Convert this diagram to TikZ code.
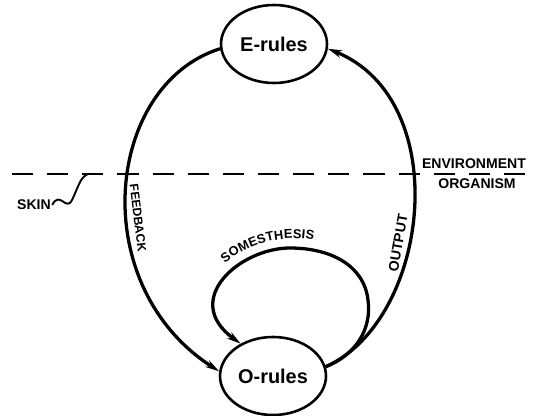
\documentclass[tikz,border=0pt]{standalone}
\usepackage{fontspec}
\setmainfont{Liberation Sans}
\usetikzlibrary{shapes.geometric,arrows.meta,decorations.text}

\begin{document}
\begin{tikzpicture}[x=0.03cm,y=0.03cm,
  rulebox/.style={draw,ellipse,line width=2.2pt,minimum width=3.18cm,minimum height=2.34cm,inner sep=0pt,font=\fontsize{17}{20}\selectfont\bfseries},
  flow/.style={line width=2.8pt,-{Stealth[length=12pt,width=6.5pt]}},
  lbl/.style={font=\fontsize{12}{14}\selectfont\bfseries,inner sep=1pt},
]
  \useasboundingbox (0,0) rectangle (544,415);
  \node[rulebox] (erule) at (274,371) {E-rules};
  \node[rulebox] (orule) at (273,39)  {O-rules};

  % skin boundary
  \coordinate (skinL) at (12,241);
  \coordinate (skinR) at (527,241);
  \draw[line width=2.5pt,dash pattern=on 18pt off 12pt] (skinL) -- (skinR);
  \node[lbl] (envir) at (474,251) {ENVIRONMENT};
  \node[lbl] (organ) at (477,231) {ORGANISM};
  \node[lbl] (skin) at (34,210) {SKIN};
  \coordinate (skinhit) at (88,241);
  \draw[line width=1.6pt] (skin.east) .. controls (60,225) and (66,203) .. (72,215)
    .. controls (78,227) and (80,238) .. (skinhit);

  % loops
  \draw[flow] (erule.185) .. controls (105,330) and (85,130) .. (orule.175);
  \draw[flow] (orule.10) .. controls (430,95) and (455,315) .. (erule.355);
  \coordinate (somright) at (368,115);
  \coordinate (somtop) at (290,167);
  \draw[flow] (orule.10) .. controls (355,60) and (372,85) .. (somright)
    .. controls (364,150) and (330,167) .. (somtop)
    .. controls (240,167) and (180,115) .. (orule.135);

  % labels on the paths
  \node[lbl,font=\fontsize{10.5}{12}\selectfont\bfseries,rotate=-83] (feedb) at (138,197) {FEEDBACK};
  \node[lbl,rotate=80] (outp) at (398,172) {OUTPUT};
  \path[decorate,decoration={text along path,text align=center,raise=1.5pt,
      text={|\fontsize{11}{13}\selectfont\bfseries|SOMESTHESIS}}]
    (218,143) .. controls (250,176) and (295,180) .. (324,170);
\end{tikzpicture}
\end{document}
